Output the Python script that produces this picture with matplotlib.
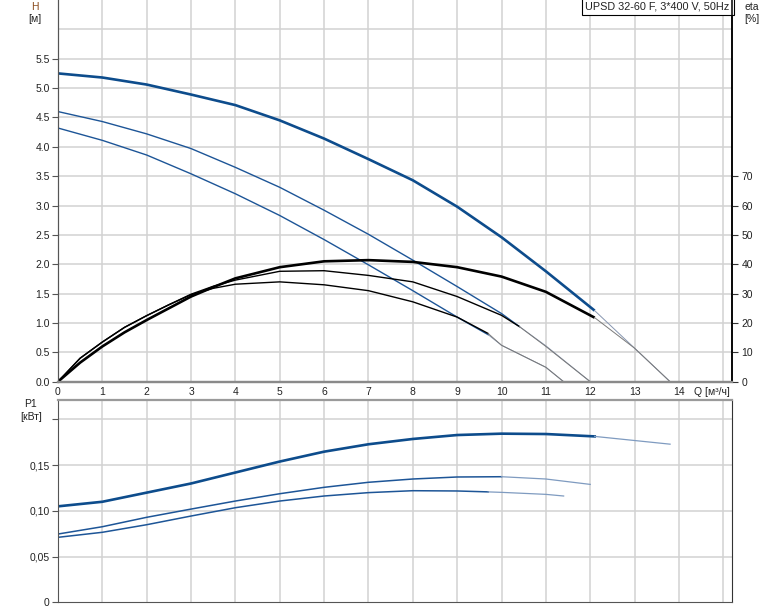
import matplotlib
matplotlib.use("Agg")
import matplotlib.pyplot as plt
import numpy as np

plt.rcParams['font.family'] = ['Liberation Sans', 'DejaVu Sans']

# H curves [m], solid part and thin continuation
q_h1 = [0, 1, 2, 3, 4, 5, 6, 7, 8, 9, 10, 11, 12.1]
h1 = [5.25, 5.18, 5.06, 4.89, 4.71, 4.45, 4.14, 3.79, 3.43, 2.98, 2.46, 1.88, 1.21]
q_h1x = [12.1, 13, 13.8]
h1x = [1.21, 0.57, 0.0]

q_h2 = [0, 1, 2, 3, 4, 5, 6, 7, 8, 9, 10, 10.4]
h2 = [4.60, 4.43, 4.22, 3.97, 3.65, 3.31, 2.92, 2.51, 2.07, 1.62, 1.16, 0.94]
q_h2x = [10.4, 11, 12]
h2x = [0.94, 0.61, 0.0]

q_h3 = [0, 1, 2, 3, 4, 5, 6, 7, 8, 9, 9.7]
h3 = [4.32, 4.11, 3.86, 3.54, 3.20, 2.83, 2.42, 1.99, 1.55, 1.10, 0.80]
q_h3x = [9.7, 10, 11, 11.4]
h3x = [0.80, 0.62, 0.245, 0.0]

# eta curves [%]
q_e1 = [0, 0.5, 1, 1.5, 2, 2.5, 3, 3.5, 4, 5, 6, 7, 8, 9, 10, 11, 12.1]
e1 = [0, 6.5, 12.0, 16.8, 21.0, 25.0, 29.0, 32.2, 35.2, 39.0, 41.0, 41.4, 40.8, 39.0, 35.8, 30.6, 21.8]
q_e1x = [12.1, 13, 13.8]
e1x = [21.8, 11.4, 0.0]

q_e2 = [0, 0.5, 1, 1.5, 2, 2.5, 3, 3.5, 4, 5, 6, 7, 8, 9, 10, 10.4]
e2 = [0, 8.0, 13.5, 18.5, 22.5, 26.2, 29.8, 32.5, 34.6, 37.6, 37.8, 36.2, 34.0, 29.0, 22.6, 18.8]
q_e2x = [10.4, 11, 12]
e2x = [18.8, 12.0, 0.0]

q_e3 = [0, 0.5, 1, 1.5, 2, 2.5, 3, 3.5, 4, 5, 6, 7, 8, 9, 9.7]
e3 = [0, 8.0, 13.5, 18.5, 22.5, 26.2, 29.6, 31.8, 33.2, 34.0, 33.0, 31.0, 27.2, 22.0, 16.4]
q_e3x = [9.7, 10, 11, 11.4]
e3x = [16.4, 12.4, 4.9, 0.0]

# P1 curves [kW]
q_p1 = [0, 1, 2, 3, 4, 5, 6, 7, 8, 9, 10, 11, 12.1]
p1 = [0.105, 0.110, 0.120, 0.130, 0.142, 0.154, 0.1648, 0.1729, 0.1787, 0.183, 0.1845, 0.1841, 0.1815]
q_p1x = [12.1, 13, 13.8]
p1x = [0.1815, 0.177, 0.173]

q_p2 = [0, 1, 2, 3, 4, 5, 6, 7, 8, 9, 10]
p2 = [0.0747, 0.0827, 0.093, 0.102, 0.1108, 0.1188, 0.1258, 0.1313, 0.1349, 0.1371, 0.1374]
q_p2x = [10, 11, 12]
p2x = [0.1374, 0.1349, 0.129]

q_p3 = [0, 1, 2, 3, 4, 5, 6, 7, 8, 9, 9.7]
p3 = [0.0711, 0.0766, 0.0849, 0.0944, 0.1035, 0.1108, 0.1163, 0.120, 0.1221, 0.1218, 0.1208]
q_p3x = [9.7, 10, 11, 11.4]
p3x = [0.1208, 0.1203, 0.1181, 0.1163]

x_labels = [str(i) for i in range(15)]
h_ticks = np.arange(0, 5.51, 0.5)
eta_ticks = np.arange(0, 71, 10)
p_ticks = [0, 0.05, 0.10, 0.15, 0.20]
p_labels = ['0', '0,05', '0,10', '0,15', '']

BLUE = '#0d4c8c'
THIN = '#8796b0'
GRID = '#d2d2d2'
TXT = '#222222'
FS = 7.5

fig = plt.figure(figsize=(7.74, 6.11), dpi=100)
ax1 = fig.add_axes([0.0749, 0.3753, 0.8705, 0.6247])
ax2 = ax1.twinx()
ax3 = fig.add_axes([0.0749, 0.0142, 0.8705, 0.3311])

xmax = 15.19
for ax in (ax1, ax3):
    ax.set_xlim(0, xmax)
    ax.set_xticks(range(15))
    for x in range(16):
        ax.axvline(x, color=GRID, lw=1.1, zorder=0)

# top chart
ax1.set_ylim(0, 6.5)
ax2.set_ylim(0, 130)
for y in np.arange(0.5, 6.01, 0.5):
    ax1.axhline(y, color=GRID, lw=1.1, zorder=0)

ax1.plot(q_h1, h1, color=BLUE, lw=1.9, solid_capstyle='butt', solid_joinstyle='round')
ax1.plot(q_h1x, h1x, color=THIN, lw=0.7)
ax1.plot(q_h2, h2, color='#1d5597', lw=1.0)
ax1.plot(q_h2x, h2x, color=THIN, lw=0.7)
ax1.plot(q_h3, h3, color='#1d5597', lw=1.0)
ax1.plot(q_h3x, h3x, color=THIN, lw=0.7)

ax2.plot(q_e1, e1, color='black', lw=1.9, solid_capstyle='butt', solid_joinstyle='round')
ax2.plot(q_e1x, e1x, color='#7a7a7a', lw=0.7)
ax2.plot(q_e2, e2, color='black', lw=1.0)
ax2.plot(q_e2x, e2x, color='#7a7a7a', lw=0.7)
ax2.plot(q_e3, e3, color='black', lw=1.0)
ax2.plot(q_e3x, e3x, color='#7a7a7a', lw=0.7)

ax1.set_yticks(h_ticks)
ax1.set_yticklabels(['%.1f' % v for v in h_ticks])
ax1.set_xticklabels(x_labels)
ax1.tick_params(axis='y', length=4, width=0.8, pad=2, labelsize=FS, labelcolor=TXT, color='#555555')
ax1.tick_params(axis='x', length=0, pad=4, labelsize=FS, labelcolor=TXT)
ax2.set_yticks(eta_ticks)
ax2.set_yticklabels([str(v) for v in eta_ticks])
ax2.tick_params(axis='y', length=4, width=0.8, pad=3, labelsize=FS, labelcolor=TXT, color='#333333')

for ax in (ax1, ax2):
    ax.spines['top'].set_visible(False)
    ax.spines['bottom'].set_color('#8a8a8a')
    ax.spines['bottom'].set_linewidth(1.6)
    ax.spines['left'].set_color('#555555')
    ax.spines['right'].set_color('black')
    ax.spines['right'].set_linewidth(1.1)

ax1.text(0.997, 0.997, 'UPSD 32-60 F, 3*400 V, 50Hz', transform=ax1.transAxes,
         ha='right', va='top', fontsize=FS + 0.3, color=TXT, zorder=5,
         bbox=dict(boxstyle='square,pad=0.35', fc='white', ec='black', lw=0.8))

fig.text(35 / 774, 1 - 7 / 611, 'H', ha='center', va='center', fontsize=FS, color='#8a4a1c')
fig.text(35 / 774, 1 - 19 / 611, '[м]', ha='center', va='center', fontsize=FS, color=TXT)
fig.text(752 / 774, 1 - 7 / 611, 'eta', ha='center', va='center', fontsize=FS, color=TXT)
fig.text(752 / 774, 1 - 19 / 611, '[%]', ha='center', va='center', fontsize=FS, color=TXT)
fig.text(694 / 774, 1 - 392 / 611, 'Q [м³/ч]', ha='left', va='center', fontsize=FS, color=TXT)
fig.text(31 / 774, 1 - 404 / 611, 'P1', ha='center', va='center', fontsize=FS, color=TXT)
fig.text(31 / 774, 1 - 417 / 611, '[кВт]', ha='center', va='center', fontsize=FS, color=TXT)

# bottom chart
ax3.set_ylim(0, 0.2213)
for y in p_ticks[1:]:
    ax3.axhline(y, color=GRID, lw=1.1, zorder=0)
ax3.plot(q_p1, p1, color=BLUE, lw=1.9, solid_joinstyle='round')
ax3.plot(q_p1x, p1x, color='#7f9bc0', lw=0.9)
ax3.plot(q_p2, p2, color='#1d5597', lw=1.1)
ax3.plot(q_p2x, p2x, color='#7f9bc0', lw=0.9)
ax3.plot(q_p3, p3, color='#1d5597', lw=1.1)
ax3.plot(q_p3x, p3x, color='#7f9bc0', lw=0.9)

ax3.set_yticks(p_ticks)
ax3.set_yticklabels(p_labels)
ax3.set_xticklabels([])
ax3.tick_params(axis='y', length=4, width=0.8, pad=2, labelsize=FS, labelcolor=TXT, color='#555555')
ax3.tick_params(axis='x', length=0)
ax3.spines['top'].set_color('#9a9a9a')
ax3.spines['top'].set_linewidth(1.6)
ax3.spines['left'].set_color('#555555')
ax3.spines['right'].set_color('#333333')
ax3.spines['bottom'].set_color('#555555')

fig.savefig('out.png', dpi=100)
